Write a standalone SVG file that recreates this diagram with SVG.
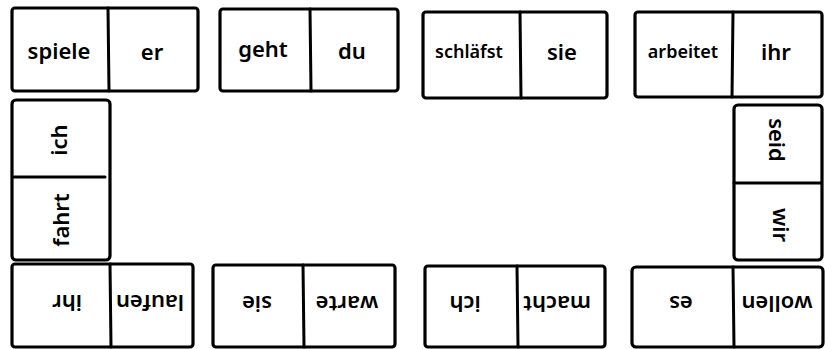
<svg xmlns="http://www.w3.org/2000/svg" width="825" height="349" viewBox="0 0 825 349">
<style>
.box{fill:#fff;stroke:#000;stroke-width:3.2;stroke-linejoin:round}
.div{stroke:#000;stroke-width:3;stroke-linecap:round}
.t{font-family:"Noto Sans","DejaVu Sans",sans-serif;font-size:22px;font-weight:600;fill:#000;text-anchor:middle;dominant-baseline:central}
.s{font-size:18px}
</style>
<rect width="825" height="349" fill="#fff"/>
<g id="top1"><rect class="box" x="12" y="8" width="186" height="83" rx="3"/><line class="div" x1="108" y1="8" x2="109" y2="91"/><text class="t" x="59" y="50">spiele</text><text class="t" x="152" y="51">er</text></g>
<g id="top2"><rect class="box" x="220" y="9" width="178" height="82" rx="3"/><line class="div" x1="310" y1="9" x2="311" y2="91"/><text class="t" x="263" y="48">geht</text><text class="t" x="352" y="50">du</text></g>
<g id="top3"><rect class="box" x="423" y="12" width="184" height="86" rx="3"/><line class="div" x1="520" y1="12" x2="521" y2="98"/><text class="t s" x="469" y="51">schläfst</text><text class="t" x="562" y="51">sie</text></g>
<g id="top4"><rect class="box" x="635" y="12" width="187" height="85" rx="3"/><line class="div" x1="733" y1="12" x2="732" y2="97"/><text class="t s" x="683" y="51">arbeitet</text><text class="t" x="776" y="51">ihr</text></g>
<g id="left"><rect class="box" x="12" y="100" width="98" height="160" rx="4"/><line class="div" x1="14" y1="177" x2="105" y2="177"/><text class="t" transform="translate(58 140) rotate(-90)">ich</text><text class="t" transform="translate(60 220) rotate(-90)">fahrt</text></g>
<g id="right"><rect class="box" x="734" y="105" width="88" height="155" rx="4"/><line class="div" x1="734" y1="183" x2="821" y2="183"/><text class="t" transform="translate(778 140) rotate(90)">seid</text><text class="t" transform="translate(782 225) rotate(90)">wir</text></g>
<g id="bot1"><rect class="box" x="12" y="264" width="181" height="83" rx="3"/><line class="div" x1="110" y1="264" x2="111" y2="347"/><text class="t" transform="translate(67 304) rotate(180)">ihr</text><text class="t" transform="translate(150 304) rotate(180)">laufen</text></g>
<g id="bot2"><rect class="box" x="213" y="265" width="182" height="82" rx="3"/><line class="div" x1="303" y1="265" x2="304" y2="347"/><text class="t" transform="translate(257 305) rotate(180)">sie</text><text class="t" transform="translate(347 305) rotate(180)">warte</text></g>
<g id="bot3"><rect class="box" x="425" y="266" width="180" height="81" rx="3"/><line class="div" x1="517" y1="266" x2="518" y2="347"/><text class="t" transform="translate(465 305) rotate(180)">ich</text><text class="t" transform="translate(557 305) rotate(180)">macht</text></g>
<g id="bot4"><rect class="box" x="632" y="267" width="191" height="80" rx="4"/><line class="div" x1="733" y1="267" x2="734" y2="347"/><text class="t" transform="translate(681 305) rotate(180)">es</text><text class="t" transform="translate(777 305) rotate(180)">wollen</text></g>
<g id="connectors"/>
</svg>
